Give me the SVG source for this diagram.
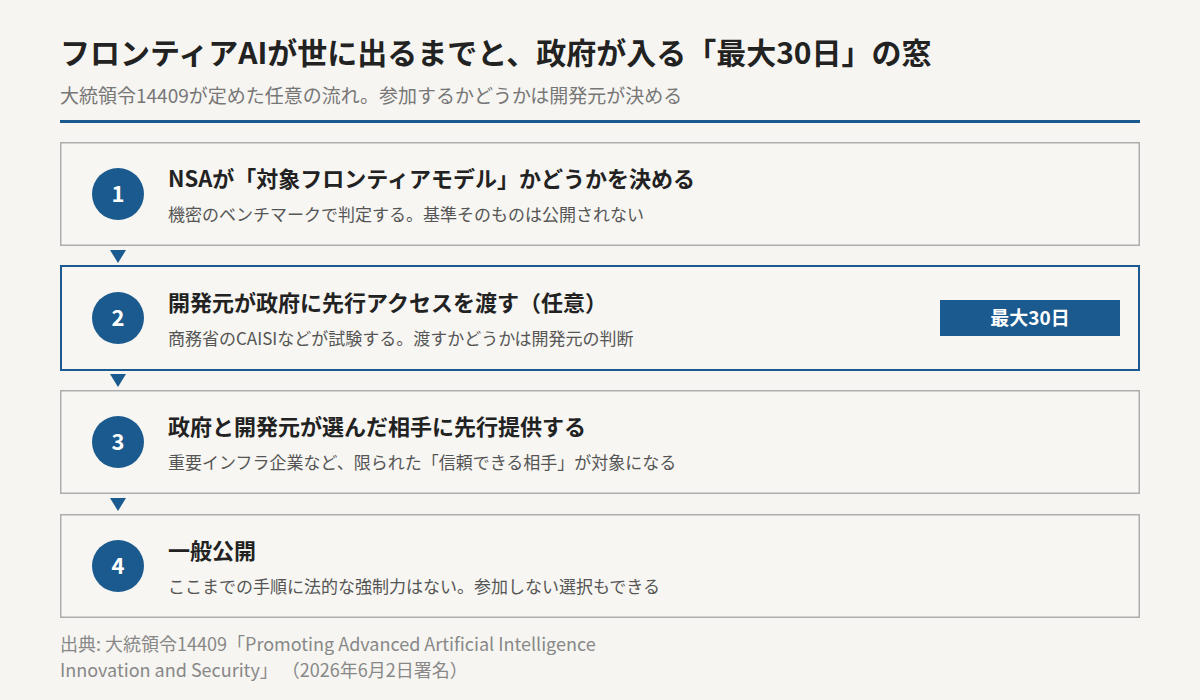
<svg xmlns="http://www.w3.org/2000/svg" width="1200" height="700" viewBox="0 0 1200 700">
<style>
text{font-family:"Noto Sans CJK JP","Noto Sans",sans-serif}
.title{font-size:30px;font-weight:700;fill:#222}
.subtitle{font-size:19px;fill:#777}
.box{fill:#f7f6f2;stroke:#adadad;stroke-width:1.5}
.box.hl{stroke:#1b5a8e;stroke-width:2}
.num{fill:#1b5a8e}
.numt{font-size:22px;font-weight:700;fill:#fff;text-anchor:middle}
.head{font-size:22px;font-weight:700;fill:#222}
.desc{font-size:17px;fill:#555}
.arrow{fill:#1b5a8e}
.badge{fill:#1b5a8e}
.badget{font-size:19px;font-weight:700;fill:#fff;text-anchor:middle}
.foot{font-size:18px;fill:#888}
</style>
<rect width="1200" height="700" fill="#f6f5f1"/>
<text class="title" x="60" y="64">フロンティアAIが世に出るまでと、政府が入る「最大30日」の窓</text>
<text class="subtitle" x="60" y="103">大統領令14409が定めた任意の流れ。参加するかどうかは開発元が決める</text>
<rect x="60" y="120" width="1080" height="3" fill="#1b5a8e"/>
<g id="connectors">
<polygon class="arrow" points="110,250 126,250 118,263"/>
<polygon class="arrow" points="110,374 126,374 118,387"/>
<polygon class="arrow" points="110,498 126,498 118,511"/>
</g>
<g id="step1">
<rect class="box" x="60.75" y="142.75" width="1078.5" height="102.5"/>
<circle class="num" cx="118" cy="194" r="26"/>
<text class="numt" x="118" y="202">1</text>
<text class="head" x="168" y="187">NSAが「対象フロンティアモデル」かどうかを決める</text>
<text class="desc" x="168" y="221">機密のベンチマークで判定する。基準そのものは公開されない</text>
</g>
<g id="step2">
<rect class="box hl" x="61" y="266" width="1078" height="104"/>
<circle class="num" cx="118" cy="318" r="26"/>
<text class="numt" x="118" y="326">2</text>
<text class="head" x="168" y="311">開発元が政府に先行アクセスを渡す（任意）</text>
<text class="desc" x="168" y="345">商務省のCAISIなどが試験する。渡すかどうかは開発元の判断</text>
<rect class="badge" x="940" y="300" width="180" height="36"/>
<text class="badget" x="1030" y="325">最大30日</text>
</g>
<g id="step3">
<rect class="box" x="60.75" y="390.75" width="1078.5" height="102.5"/>
<circle class="num" cx="118" cy="442" r="26"/>
<text class="numt" x="118" y="450">3</text>
<text class="head" x="168" y="435">政府と開発元が選んだ相手に先行提供する</text>
<text class="desc" x="168" y="469">重要インフラ企業など、限られた「信頼できる相手」が対象になる</text>
</g>
<g id="step4">
<rect class="box" x="60.75" y="514.75" width="1078.5" height="102.5"/>
<circle class="num" cx="118" cy="566" r="26"/>
<text class="numt" x="118" y="574">4</text>
<text class="head" x="168" y="559">一般公開</text>
<text class="desc" x="168" y="593">ここまでの手順に法的な強制力はない。参加しない選択もできる</text>
</g>
<text class="foot" x="60" y="651">出典: 大統領令14409「Promoting Advanced Artificial Intelligence</text>
<text class="foot" x="60" y="677">Innovation and Security」 （2026年6月2日署名）</text>
</svg>
